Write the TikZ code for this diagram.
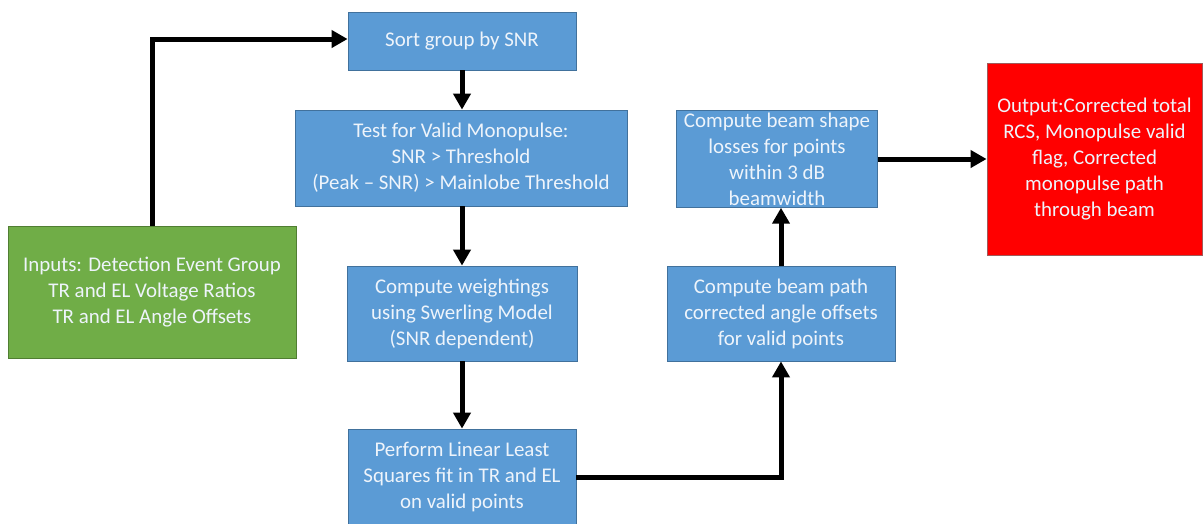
\documentclass[tikz,border=0pt]{standalone}
\usepackage{fontspec}
\setmainfont{Carlito}
\usetikzlibrary{arrows.meta}
\definecolor{stepblue}{HTML}{5B9BD5}
\definecolor{stepblueline}{HTML}{41719C}
\definecolor{ingreen}{HTML}{70AD47}
\definecolor{ingreenline}{HTML}{507E32}
\definecolor{outred}{HTML}{FF0000}
\definecolor{outredline}{HTML}{A05A5A}
\definecolor{boxtext}{HTML}{EEF4FB}
\tikzset{
  box/.style={rectangle, draw, line width=0.8pt, text=boxtext, align=center,
    inner sep=2pt, font=\fontsize{20.9}{26}\selectfont},
  stepbox/.style={box, fill=stepblue, draw=stepblueline},
  inbox/.style={box, fill=ingreen, draw=ingreenline},
  outbox/.style={box, fill=outred, draw=outredline},
  flow/.style={line width=5pt, -{Triangle[length=16pt,width=17pt]}},
}
\begin{document}
\begin{tikzpicture}[x=1pt, y=-1pt]
\useasboundingbox (0,0) rectangle (1204,523);
% process boxes
\node[stepbox, minimum width=228pt, minimum height=58pt] (sort) at (462,41) {Sort group by SNR};
\node[stepbox, minimum width=332pt, minimum height=96pt] (test) at (461,158)
  {Test for Valid Monopulse:\\ SNR > Threshold\\ (Peak -- SNR) > Mainlobe Threshold};
\node[inbox, minimum width=288pt, minimum height=132pt] (inputs) at (152,292)
  {Inputs: Detection Event Group\\ TR and EL Voltage Ratios\\ TR and EL Angle Offsets};
\node[stepbox, minimum width=230pt, minimum height=95pt] (weight) at (462,313.5)
  {Compute weightings\\ using Swerling Model\\ (SNR dependent)};
\node[stepbox, minimum width=228pt, minimum height=96pt] (lls) at (462,477)
  {Perform Linear Least\\ Squares fit in TR and EL\\ on valid points};
\node[stepbox, minimum width=228pt, minimum height=95pt] (bpath) at (781,313.5)
  {Compute beam path\\ corrected angle offsets\\ for valid points};
\node[stepbox, minimum width=201pt, minimum height=96pt] (bshape) at (777,159)
  {Compute beam shape\\ losses for points\\ within 3 dB\\ beamwidth};
\node[outbox, minimum width=215pt, minimum height=192pt] (out) at (1094.5,159)
  {Output:Corrected total\\ RCS, Monopulse valid\\ flag, Corrected\\ monopulse path\\ through beam};
% connectors
\draw[flow] (inputs.north) |- ([yshift=2pt]sort.west);
\draw[flow] (sort.south) -- (test.north -| sort.south);
\draw[flow] (test.south -| weight.north) -- (weight.north);
\draw[flow] (weight.south) -- (lls.north);
\draw[flow] (lls.east) -| (bpath.south);
\draw[flow] (bpath.north) -- (bpath.north |- bshape.south);
\draw[flow] (bshape.east) -- (out.west);
\end{tikzpicture}
\end{document}
